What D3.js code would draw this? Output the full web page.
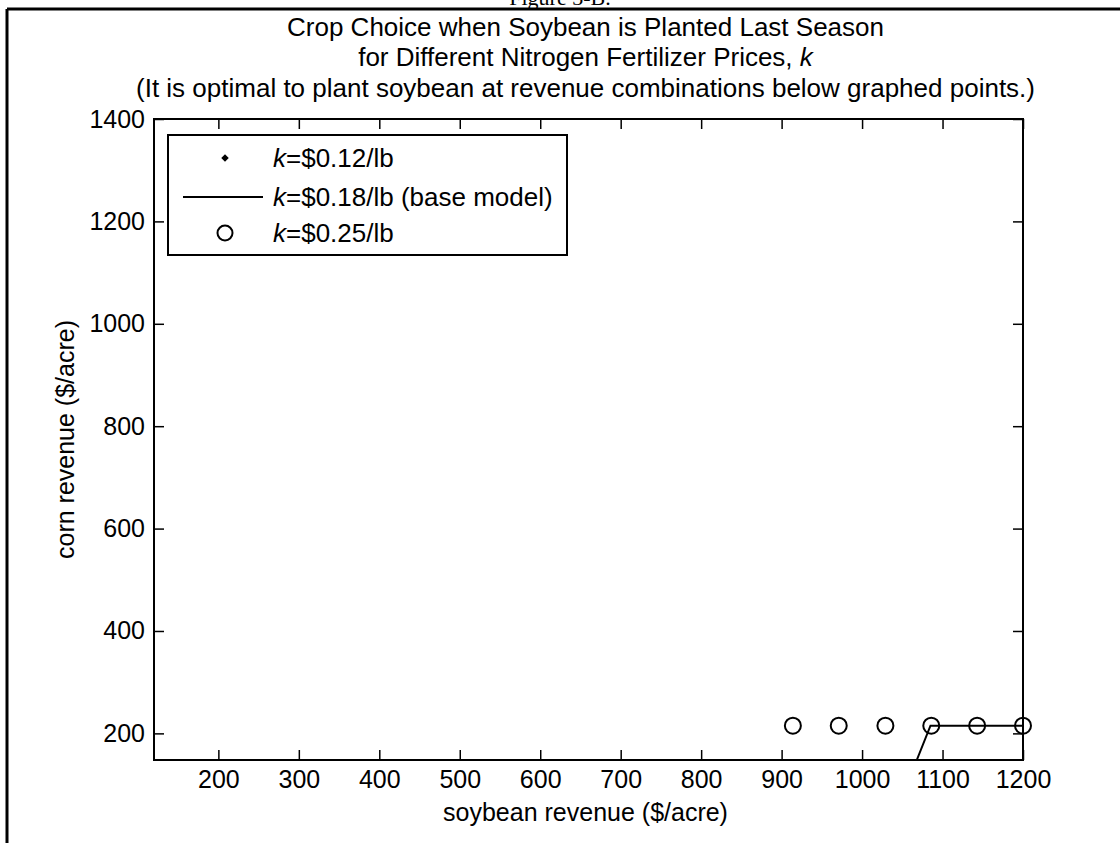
<!DOCTYPE html>
<html>
<head>
<meta charset="utf-8">
<script src="https://cdn.jsdelivr.net/npm/d3@7"></script>
<style>
  html, body { margin: 0; padding: 0; background: #fff; }
  svg { display: block; }
  text { font-family: "Liberation Sans", Arial, sans-serif; fill: #000; }
</style>
</head>
<body>
<svg id="chart" width="1120" height="843"></svg>
<script>
// ---- data ----
const figureLabel = "Figure 3-B.";
const titleLines = [
  "Crop Choice when Soybean is Planted Last Season",
  "for Different Nitrogen Fertilizer Prices, ",
  "(It is optimal to plant soybean at revenue combinations below graphed points.)"
];
const xLabel = "soybean revenue ($/acre)";
const yLabel = "corn revenue ($/acre)";
const xDomain = [120, 1200];
const yDomain = [148, 1400];
const xTicks = [200, 300, 400, 500, 600, 700, 800, 900, 1000, 1100, 1200];
const yTicks = [200, 400, 600, 800, 1000, 1200, 1400];

// k = $0.12/lb (dots) – none visible inside the axes
const lowSoy = [];
const lowCorn = [];
// k = $0.18/lb base model (line)
const baseSoy = [1068, 1085, 1143, 1200];
const baseCorn = [148, 215, 215, 215];
// k = $0.25/lb (circles)
const highSoy = [914, 971, 1029, 1086, 1143, 1200];
const highCorn = [215, 215, 215, 215, 215, 215];

const legendLabels = ["=$0.12/lb", "=$0.18/lb (base model)", "=$0.25/lb"];

// ---- drawing ----
const svg = d3.select("#chart");
const FS = 25;     // axis text
const FT = 26;     // title & legend text
const m = { left: 154, right: 1023, top: 119, bottom: 760 };

const x = d3.scaleLinear().domain(xDomain).range([m.left, m.right]);
const y = d3.scaleLinear().domain(yDomain).range([m.bottom, m.top]);

// figure frame and partially visible caption
svg.append("text").attr("x", 560).attr("y", 5)
  .attr("text-anchor", "middle")
  .style("font-family", "'Liberation Serif', 'Times New Roman', serif")
  .style("font-size", "22px").text(figureLabel);
svg.append("line").attr("x1", 7).attr("x2", 1120).attr("y1", 9).attr("y2", 9)
  .attr("stroke", "#000").attr("stroke-width", 3);
svg.append("line").attr("x1", 7).attr("x2", 7).attr("y1", 9).attr("y2", 843)
  .attr("stroke", "#000").attr("stroke-width", 3);

// title
const cx = (m.left + m.right) / 2;
const tBase = [36, 66, 97];
titleLines.forEach((t, i) => {
  const tt = svg.append("text").attr("x", cx - 3).attr("y", tBase[i])
    .attr("text-anchor", "middle").style("font-size", FT + "px");
  tt.append("tspan").text(t);
  if (i === 1) tt.append("tspan").style("font-style", "italic").text("k");
});

// clip
svg.append("clipPath").attr("id", "clip").append("rect")
  .attr("x", m.left).attr("y", m.top)
  .attr("width", m.right - m.left).attr("height", m.bottom - m.top);

// axes
const styleAxis = g => {
  g.select(".domain").remove();
  g.selectAll(".tick line").attr("stroke", "#000").attr("stroke-width", 1.5);
  g.selectAll("text").style("font-size", FS + "px").style("font-family", "'Liberation Sans', Arial, sans-serif").attr("fill", "#000");
};
svg.append("g").attr("transform", `translate(0,${m.bottom})`)
  .call(d3.axisBottom(x).tickValues(xTicks).tickSize(-10).tickPadding(10).tickFormat(d3.format("d")))
  .call(styleAxis);
svg.append("g").attr("transform", `translate(0,${m.top})`)
  .call(d3.axisTop(x).tickValues(xTicks).tickSize(-10).tickFormat(""))
  .call(styleAxis);
svg.append("g").attr("transform", `translate(${m.left},0)`)
  .call(d3.axisLeft(y).tickValues(yTicks).tickSize(-10).tickPadding(9).tickFormat(d3.format("d")))
  .call(styleAxis);
svg.append("g").attr("transform", `translate(${m.right},0)`)
  .call(d3.axisRight(y).tickValues(yTicks).tickSize(-10).tickFormat(""))
  .call(styleAxis);

svg.append("rect").attr("x", m.left).attr("y", m.top)
  .attr("width", m.right - m.left).attr("height", m.bottom - m.top)
  .attr("fill", "none").attr("stroke", "#000").attr("stroke-width", 2);

// axis labels
svg.append("text").attr("x", cx - 3).attr("y", 821).attr("text-anchor", "middle")
  .style("font-size", FS + "px").text(xLabel);
svg.append("text").attr("transform", `translate(74,${(m.top + m.bottom) / 2}) rotate(-90)`)
  .attr("text-anchor", "middle").style("font-size", FS + "px").text(yLabel);

// data marks
const plot = svg.append("g").attr("clip-path", "url(#clip)");
const baseData = baseSoy.map((s, i) => [s, baseCorn[i]]);
plot.append("path").datum(baseData)
  .attr("d", d3.line().x(d => x(d[0])).y(d => y(d[1])))
  .attr("fill", "none").attr("stroke", "#000").attr("stroke-width", 2);

const markG = svg.append("g");
markG.selectAll("circle.high").data(highSoy.map((s, i) => [s, highCorn[i]])).join("circle")
  .attr("class", "high").attr("cx", d => x(d[0])).attr("cy", d => y(d[1])).attr("r", 8)
  .attr("fill", "none").attr("stroke", "#000").attr("stroke-width", 2);
markG.selectAll("path.low").data(lowSoy.map((s, i) => [s, lowCorn[i]])).join("path")
  .attr("class", "low").attr("d", d3.symbol(d3.symbolDiamond2, 30)())
  .attr("transform", d => `translate(${x(d[0])},${y(d[1])})`).attr("fill", "#000");

// legend
const lg = svg.append("g");
lg.append("rect").attr("x", 168).attr("y", 135).attr("width", 399).attr("height", 120)
  .attr("fill", "#fff").attr("stroke", "#000").attr("stroke-width", 2);
const rowY = [158, 197, 233];
lg.append("path").attr("d", d3.symbol(d3.symbolDiamond2, 36)())
  .attr("transform", `translate(225,${rowY[0]})`).attr("fill", "#000");
lg.append("line").attr("x1", 183).attr("x2", 263).attr("y1", rowY[1]).attr("y2", rowY[1])
  .attr("stroke", "#000").attr("stroke-width", 2);
lg.append("circle").attr("cx", 225).attr("cy", rowY[2]).attr("r", 7.5)
  .attr("fill", "none").attr("stroke", "#000").attr("stroke-width", 2);
legendLabels.forEach((l, i) => {
  const t = lg.append("text").attr("x", 273).attr("y", rowY[i]).attr("dy", "0.35em")
    .style("font-size", FT + "px");
  t.append("tspan").style("font-style", "italic").text("k");
  t.append("tspan").text(l);
});
</script>
</body>
</html>
